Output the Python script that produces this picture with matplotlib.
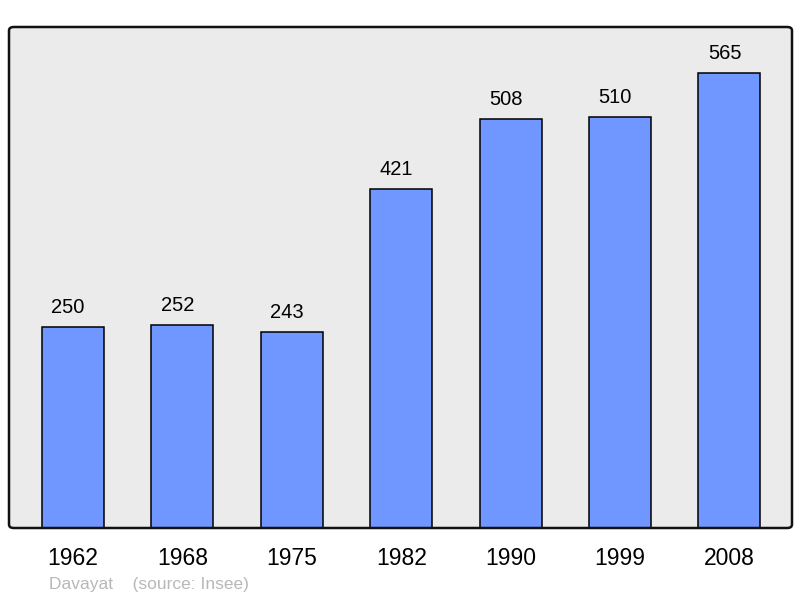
import matplotlib.pyplot as plt
from matplotlib.patches import FancyBboxPatch

plt.rcParams['font.family'] = ['Liberation Sans', 'DejaVu Sans']

years = ['1962', '1968', '1975', '1982', '1990', '1999', '2008']
population = [250, 252, 243, 421, 508, 510, 565]

fig = plt.figure(figsize=(8, 5.98), dpi=100)
ax = fig.add_axes([9/800, 70/598, 783/800, 501/598])
ax.set_facecolor('#ebebeb')

x = range(len(years))
ax.bar(x, population, width=0.567, color='#7096ff', edgecolor='black', linewidth=1.1, zorder=2)

# value labels sit a little left of the bar centre, as in the original
for i, v in enumerate(population):
    ax.annotate(str(v), (i, v), xytext=(-3.5, 14), textcoords='offset points',
                ha='center', va='center', fontsize=14.5)

ax.set_xlim(-0.585, 6.572)
ax.set_ylim(0, 622)
ax.set_xticks(list(x))
ax.set_xticklabels(years, fontsize=16.5)
ax.tick_params(axis='x', length=0, pad=14)
ax.set_yticks([])
for s in ax.spines.values():
    s.set_visible(False)

# rounded frame round the plot area
frame = FancyBboxPatch((9/800, 70/598), 783/800, 501/598,
                       boxstyle='round,pad=0,rounding_size=0.006',
                       transform=fig.transFigure, fill=False,
                       edgecolor='#111111', linewidth=1.8, zorder=5)
fig.patches.append(frame)

fig.text(49/800, 1 - 584/598, 'Davayat    (source: Insee)', fontsize=12.5,
         color='#b8b8b8', va='center', ha='left')

fig.savefig('out.png', dpi=100)
